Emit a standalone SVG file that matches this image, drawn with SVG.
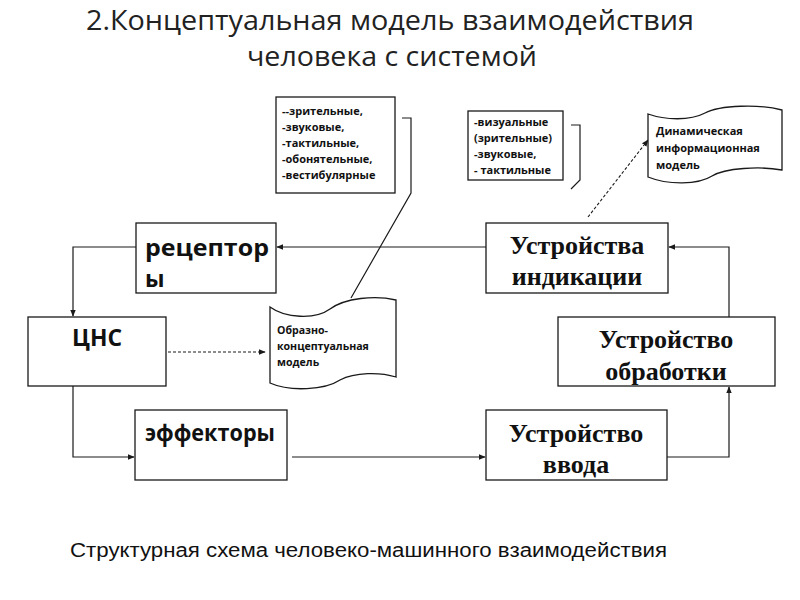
<svg xmlns="http://www.w3.org/2000/svg" width="800" height="600" viewBox="0 0 800 600">
<defs>
<style>
.box{fill:#fff;stroke:#1a1a1a;stroke-width:1.3}
.ln{fill:none;stroke:#1a1a1a;stroke-width:1.2}
.dash{fill:none;stroke:#1a1a1a;stroke-width:1.1;stroke-dasharray:3,2}
.title{font-family:"Open Sans","Liberation Sans",sans-serif;font-size:28px;fill:#222}
.sub{font-family:"Liberation Sans",Arial,sans-serif;font-size:20px;fill:#111}
.small{font-family:"Open Sans","Liberation Sans",sans-serif;font-size:11px;font-weight:bold;fill:#111}
.small2{font-family:"Open Sans","Liberation Sans",sans-serif;font-size:10.6px;font-weight:bold;fill:#111}
.big{font-family:"Open Sans","Liberation Sans",sans-serif;font-size:23px;font-weight:bold;fill:#111}
.serif{font-family:"Liberation Serif",serif;font-size:26px;font-weight:bold;fill:#111;text-anchor:middle}
</style>
<marker id="ah" viewBox="0 0 10 10" refX="9" refY="5" markerWidth="7" markerHeight="7" orient="auto" markerUnits="userSpaceOnUse">
<path d="M0,1 L10,5 L0,9 Z" fill="#1a1a1a"/>
</marker>
</defs>
<rect width="800" height="600" fill="#fff"/>

<text class="title" x="390" y="30" text-anchor="middle" textLength="608" lengthAdjust="spacingAndGlyphs">2.Концептуальная модель взаимодействия</text>
<text class="title" x="392" y="66" text-anchor="middle" textLength="290" lengthAdjust="spacingAndGlyphs">человека с системой</text>

<g id="connectors">
<line class="ln" x1="486" y1="247" x2="277" y2="247" marker-end="url(#ah)"/>
<polyline class="ln" points="136,247 73,247 73,316" marker-end="url(#ah)"/>
<polyline class="ln" points="73,386 73,457 134,457" marker-end="url(#ah)"/>
<line class="ln" x1="292" y1="457" x2="485" y2="457" marker-end="url(#ah)"/>
<polyline class="ln" points="667,457 729,457 729,387" marker-end="url(#ah)"/>
<polyline class="ln" points="729,317 729,247 669,247" marker-end="url(#ah)"/>
<line class="dash" x1="168" y1="352" x2="265" y2="352" marker-end="url(#ah)"/>
<line class="dash" x1="588" y1="217" x2="648" y2="140" marker-end="url(#ah)"/>
<polyline class="ln" points="402,118 411,118 411,193 351,298"/>
<polyline class="ln" points="571,125 580,125 580,180 571,189"/>
</g>

<g id="senses">
<rect class="box" x="276" y="97" width="119" height="96"/>
<text class="small" x="282" y="115">--зрительные,</text>
<text class="small" x="282" y="131">-звуковые,</text>
<text class="small" x="282" y="147">-тактильные,</text>
<text class="small" x="282" y="163">-обонятельные,</text>
<text class="small" x="282" y="179">-вестибулярные</text>
</g>

<g id="channels">
<rect class="box" x="468" y="111" width="95" height="69"/>
<text class="small" x="474" y="126">-визуальные</text>
<text class="small" x="474" y="142">(зрительные)</text>
<text class="small" x="474" y="158">-звуковые,</text>
<text class="small" x="474" y="174">- тактильные</text>
</g>

<g id="dynamic-model">
<path class="box" d="M648,114 C665,120 690,121 705,113 C720,105 760,104 782,110 L782,170 C760,166 725,168 712,176 C698,185 668,185 648,177 Z"/>
<text class="small" x="656" y="135">Динамическая</text>
<text class="small" x="656" y="152">информационная</text>
<text class="small" x="656" y="169">модель</text>
</g>

<g id="concept-model">
<path class="box" d="M270,307 C285,318 315,320 330,309 C345,298 375,295 396,300 L396,377 C380,372 355,372 340,380 C325,390 290,392 270,383 Z"/>
<text class="small2" x="277" y="334">Образно-</text>
<text class="small2" x="277" y="350">концептуальная</text>
<text class="small2" x="277" y="366">модель</text>
</g>

<g id="receptors">
<rect class="box" x="136" y="223" width="140" height="70"/>
<text class="big" x="145" y="256" textLength="124" lengthAdjust="spacingAndGlyphs">рецептор</text>
<text class="big" x="145" y="287">ы</text>
</g>

<g id="cns">
<rect class="box" x="28" y="317" width="138" height="69"/>
<text class="big" x="72" y="346" textLength="50" lengthAdjust="spacingAndGlyphs">ЦНС</text>
</g>

<g id="effectors">
<rect class="box" x="135" y="410" width="152" height="70"/>
<text class="big" x="145" y="441" textLength="130" lengthAdjust="spacingAndGlyphs">эффекторы</text>
</g>

<g id="indication">
<rect class="box" x="486" y="223" width="182" height="70"/>
<text class="serif" x="577" y="254">Устройства</text>
<text class="serif" x="577" y="285">индикации</text>
</g>

<g id="processing">
<rect class="box" x="558" y="317" width="217" height="69"/>
<text class="serif" x="666" y="348">Устройство</text>
<text class="serif" x="666" y="380">обработки</text>
</g>

<g id="input">
<rect class="box" x="486" y="410" width="181" height="70"/>
<text class="serif" x="576" y="442">Устройство</text>
<text class="serif" x="576" y="473">ввода</text>
</g>

<text class="sub" x="70" y="557" textLength="597" lengthAdjust="spacingAndGlyphs">Структурная схема человеко-машинного взаимодействия</text>
</svg>
